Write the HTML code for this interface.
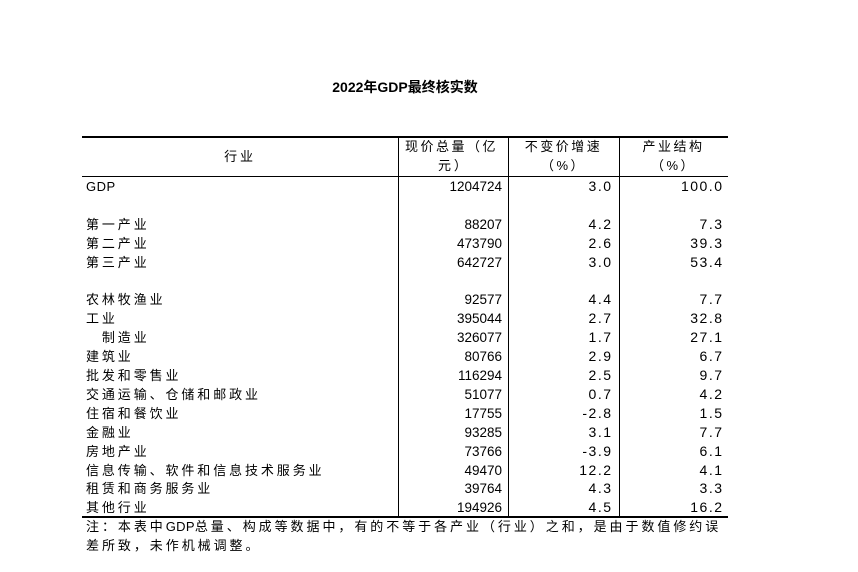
<!DOCTYPE html>
<html><head><meta charset="utf-8"><style>
body{margin:0;width:858px;height:572px;background:#fff;position:relative;overflow:hidden;font-family:"Liberation Sans","Noto Sans CJK SC",sans-serif;color:#000}
.a{position:absolute;white-space:nowrap;font-size:13px;line-height:19px}
.t{left:0;width:810px;text-align:center;top:78px;font-weight:bold;font-size:14px}
.h{position:absolute;background:#000}
.c{letter-spacing:2.9px;font-size:13px}
.n{text-align:right;font-size:13.5px}
.m{font-size:14px;letter-spacing:1.5px}
.g{letter-spacing:0.3px}
</style></head><body>
<div class="a t">2022年GDP最终核实数</div>
<div class="h" style="left:82px;top:136px;width:646px;height:2px"></div>
<div class="h" style="left:82px;top:176px;width:646px;height:1px"></div>
<div class="h" style="left:82px;top:516px;width:646px;height:2px"></div>
<div class="h" style="left:398px;top:137px;width:1px;height:380px"></div>
<div class="h" style="left:508px;top:137px;width:1px;height:380px"></div>
<div class="h" style="left:619px;top:137px;width:1px;height:380px"></div>
<div class="a c" style="left:82px;width:316px;text-align:center;top:147px">行业</div>
<div class="a c" style="left:405px;top:137px;line-height:19px;letter-spacing:2.5px">现价总量（亿</div>
<div class="a c" style="left:438px;top:156px;line-height:19px">元）</div>
<div class="a c" style="left:508px;width:111px;text-align:center;top:137px;line-height:19px;letter-spacing:2.5px">不变价增速<br>（%）</div>
<div class="a c" style="left:619px;width:109px;text-align:center;top:137px;line-height:19px;letter-spacing:2.5px">产业结构<br>（%）</div>
<div id="rows"></div>
<div class="a c" style="left:86px;top:517px;line-height:19px;letter-spacing:2.95px">注：本表中<span class="g">GDP</span>总量、构成等数据中，有的不等于各产业（行业）之和，是由于数值修约误<br>差所致，未作机械调整。</div>
<script>
var d=[["GDP","1204724","3.0","100.0"],null,["第一产业","88207","4.2","7.3"],["第二产业","473790","2.6","39.3"],["第三产业","642727","3.0","53.4"],null,["农林牧渔业","92577","4.4","7.7"],["工业","395044","2.7","32.8"],["　制造业","326077","1.7","27.1"],["建筑业","80766","2.9","6.7"],["批发和零售业","116294","2.5","9.7"],["交通运输、仓储和邮政业","51077","0.7","4.2"],["住宿和餐饮业","17755","-2.8","1.5"],["金融业","93285","3.1","7.7"],["房地产业","73766","-3.9","6.1"],["信息传输、软件和信息技术服务业","49470","12.2","4.1"],["租赁和商务服务业","39764","4.3","3.3"],["其他行业","194926","4.5","16.2"]];
var h="";
d.forEach(function(r,i){if(!r)return;var y=177+i*18.9;
var s=r[0]=="GDP"?' style="left:86px;top:'+y+'px;letter-spacing:0.5px"':' style="left:86px;top:'+y+'px"';
h+='<div class="a c"'+s+'>'+r[0]+'</div>';
h+='<div class="a n" style="left:400px;width:102px;top:'+y+'px">'+r[1]+'</div>';
h+='<div class="a n m" style="left:510px;width:102.5px;top:'+y+'px">'+r[2]+'</div>';
h+='<div class="a n m" style="left:620px;width:103.5px;top:'+y+'px">'+r[3]+'</div>';});
document.getElementById("rows").innerHTML=h;
</script>
</body></html>
